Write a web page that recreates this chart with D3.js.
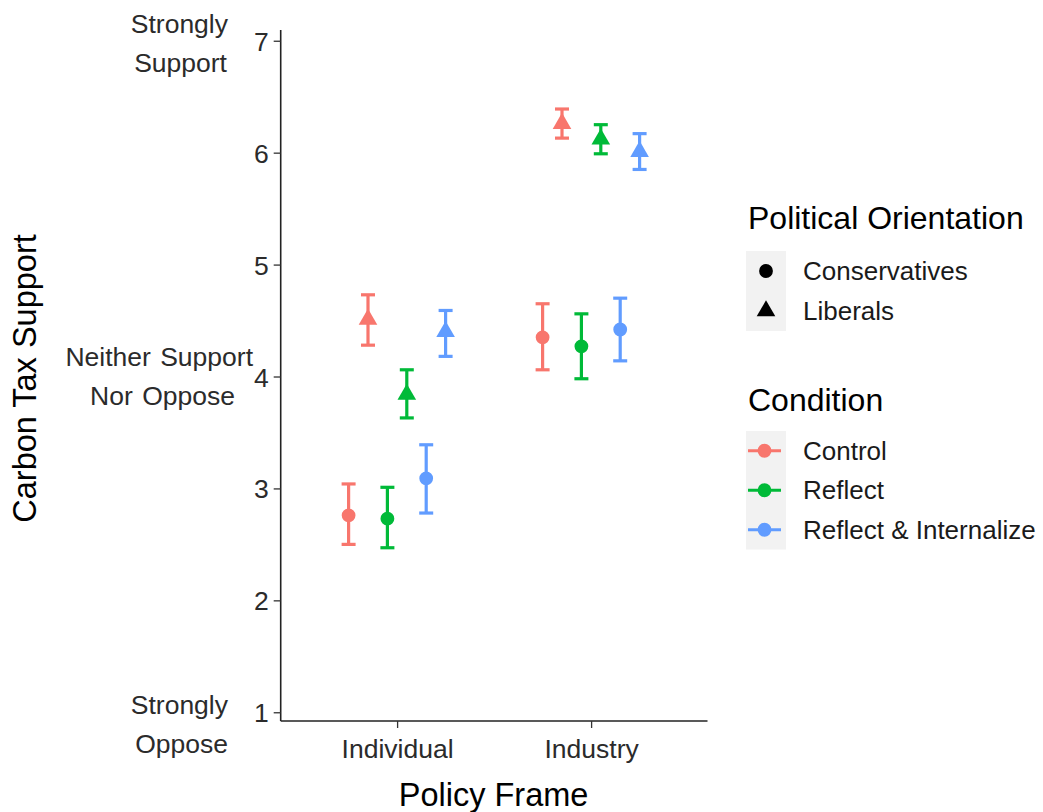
<!DOCTYPE html>
<html>
<head>
<meta charset="utf-8">
<script src="https://cdn.jsdelivr.net/npm/d3@7"></script>
<style>
  html, body { margin: 0; padding: 0; background: #fff; }
  svg { display: block; font-family: "Liberation Sans", Arial, sans-serif; }
</style>
</head>
<body>
<svg id="chart" width="1043" height="812"></svg>
<script>
// ---------------- data ----------------
const frames = ["Individual", "Industry"];
const conditions = ["Control", "Reflect", "Reflect & Internalize"];
const orientations = ["Conservatives", "Liberals"];

// means and 95% CI bounds, per frame (rows) and condition (columns)
const conservativesMean = [[2.76, 2.73, 3.09], [4.35, 4.27, 4.42]];
const conservativesLow  = [[2.50, 2.47, 2.78], [4.06, 3.98, 4.14]];
const conservativesHigh = [[3.04, 3.01, 3.39], [4.65, 4.56, 4.70]];
const liberalsMean = [[4.51, 3.84, 4.40], [6.26, 6.12, 6.01]];
const liberalsLow  = [[4.28, 3.63, 4.18], [6.13, 5.99, 5.85]];
const liberalsHigh = [[4.73, 4.06, 4.59], [6.39, 6.25, 6.17]];

const yTicks = [1, 2, 3, 4, 5, 6, 7];
const anchorValues = [7, 4, 1];
const anchorLabels = [["Strongly", "Support"], ["Neither Support", "Nor Oppose"], ["Strongly", "Oppose"]];

const xTitle = "Policy Frame";
const yTitle = "Carbon Tax Support";
const shapeTitle = "Political Orientation";
const colorTitle = "Condition";

// ---------------- styles ----------------
const colors = ["#F8766D", "#00BA38", "#619CFF"];
const svg = d3.select("#chart");

const x = d3.scaleLinear().domain([0.4, 2.6]).range([280.7, 707.5]);
const y = d3.scaleLinear().domain([0.922, 7.096]).range([721, 30]);
const color = d3.scaleOrdinal().domain(conditions).range(colors);
const shape = d3.scaleOrdinal().domain(orientations).range([d3.symbolCircle, d3.symbolTriangle]);
const symbolSize = 150;

// build rows
const rows = [];
const seriesMean = [conservativesMean, liberalsMean];
const seriesLow = [conservativesLow, liberalsLow];
const seriesHigh = [conservativesHigh, liberalsHigh];
frames.forEach((f, fi) => {
  conditions.forEach((c, ci) => {
    orientations.forEach((o, oi) => {
      rows.push({
        frame: f, fi, condition: c, ci, orientation: o, oi,
        mean: seriesMean[oi][fi][ci],
        low: seriesLow[oi][fi][ci],
        high: seriesHigh[oi][fi][ci]
      });
    });
  });
});

// dodge: 6 groups over width 0.6
const dodgeWidth = 0.6, nGroups = conditions.length * orientations.length;
function xPos(d) {
  const g = d.ci * orientations.length + d.oi;
  return x(d.fi + 1 - dodgeWidth / 2 + dodgeWidth / nGroups * (g + 0.5));
}

// ---------------- axes ----------------
const yAxis = d3.axisLeft(y).tickValues(yTicks).tickSize(7).tickPadding(5).tickFormat(d3.format("d"));
const gy = svg.append("g").attr("transform", `translate(${x.range()[0]},0)`).call(yAxis);
const xAxis = d3.axisBottom(x).tickValues([1, 2]).tickSize(7).tickPadding(6).tickFormat(d => frames[d - 1]);
const gx = svg.append("g").attr("transform", `translate(0,${y.range()[0]})`).call(xAxis);

[gx, gy].forEach(g => {
  g.select(".domain").attr("stroke", "#222").attr("stroke-width", 1.6);
  g.selectAll(".tick line").attr("stroke", "#333").attr("stroke-width", 1.3);
  g.selectAll(".tick text").attr("fill", "#2b2b2b").style("font-size", "26.5px");
});
gy.select(".domain").attr("d", `M0,${y.range()[0]}V${y.range()[1]}`);
gx.select(".domain").attr("d", `M${x.range()[0]},0H${x.range()[1]}`);
gx.selectAll(".tick text").attr("dy", "0.9em");
gy.selectAll(".tick text").attr("dy", "0.36em");

// anchor labels
const anchorX = [[228, 227], [253, 235], [228, 228]];
const anchorShift = [3, 0, 12];
const lineGap = 39;
anchorValues.forEach((v, i) => {
  const lines = anchorLabels[i];
  lines.forEach((t, j) => {
    svg.append("text")
      .attr("x", anchorX[i][j])
      .attr("y", y(v) + anchorShift[i] + (j - (lines.length - 1) / 2) * lineGap)
      .attr("text-anchor", "end")
      .attr("dominant-baseline", "central")
      .attr("fill", "#2b2b2b")
      .style("font-size", "26.5px")
      .style("word-spacing", "2px")
      .text(t);
  });
});

// axis titles
svg.append("text")
  .attr("x", (x.range()[0] + x.range()[1]) / 2 - 0.5).attr("y", 806)
  .attr("text-anchor", "middle").attr("fill", "#000")
  .style("font-size", "32.5px").text(xTitle);
svg.append("text")
  .attr("transform", `translate(36,${y(4) + 2}) rotate(-90)`)
  .attr("text-anchor", "middle").attr("fill", "#000")
  .style("font-size", "32.5px").text(yTitle);

// ---------------- marks ----------------
const capHalf = 7;
const marks = svg.append("g");
const g = marks.selectAll("g.pt").data(rows).join("g").attr("class", "pt");
g.append("line")
  .attr("x1", xPos).attr("x2", xPos)
  .attr("y1", d => y(d.low)).attr("y2", d => y(d.high))
  .attr("stroke", d => color(d.condition)).attr("stroke-width", 3.2);
g.append("line")
  .attr("x1", d => xPos(d) - capHalf).attr("x2", d => xPos(d) + capHalf)
  .attr("y1", d => y(d.low)).attr("y2", d => y(d.low))
  .attr("stroke", d => color(d.condition)).attr("stroke-width", 3.2);
g.append("line")
  .attr("x1", d => xPos(d) - capHalf).attr("x2", d => xPos(d) + capHalf)
  .attr("y1", d => y(d.high)).attr("y2", d => y(d.high))
  .attr("stroke", d => color(d.condition)).attr("stroke-width", 3.2);
g.append("path")
  .attr("transform", d => `translate(${xPos(d)},${y(d.mean)})`)
  .attr("d", d => d3.symbol().type(shape(d.orientation)).size(symbolSize)())
  .attr("fill", d => color(d.condition));

// ---------------- legends ----------------
const legX = 746, keyW = 40, keyH = 40, labX = 803;
// shape legend
svg.append("text").attr("x", 748).attr("y", 218).attr("dominant-baseline", "central")
  .attr("fill", "#000").style("font-size", "32px").text(shapeTitle);
const shapeTop = 251;
svg.append("rect").attr("x", legX).attr("y", shapeTop).attr("width", keyW).attr("height", keyH * orientations.length)
  .attr("fill", "#F2F2F2");
orientations.forEach((o, i) => {
  const cy = shapeTop + keyH * (i + 0.5);
  svg.append("path").attr("transform", `translate(${legX + keyW / 2},${cy})`)
    .attr("d", d3.symbol().type(shape(o)).size(symbolSize)()).attr("fill", "#000");
  svg.append("text").attr("x", labX).attr("y", cy).attr("dominant-baseline", "central")
    .attr("fill", "#1a1a1a").style("font-size", "26px").text(o);
});
// colour legend
svg.append("text").attr("x", 748).attr("y", 400).attr("dominant-baseline", "central")
  .attr("fill", "#000").style("font-size", "32px").text(colorTitle);
const colTop = 431;
const keyH2 = 39.5;
svg.append("rect").attr("x", legX).attr("y", colTop).attr("width", keyW).attr("height", keyH2 * conditions.length)
  .attr("fill", "#F2F2F2");
conditions.forEach((c, i) => {
  const cy = colTop + keyH2 * (i + 0.5);
  svg.append("line").attr("x1", legX + 2).attr("x2", legX + keyW - 5).attr("y1", cy).attr("y2", cy)
    .attr("stroke", color(c)).attr("stroke-width", 3.2);
  svg.append("path").attr("transform", `translate(${legX + keyW / 2 - 1.5},${cy})`)
    .attr("d", d3.symbol().type(d3.symbolCircle).size(symbolSize)()).attr("fill", color(c));
  svg.append("text").attr("x", labX).attr("y", cy).attr("dominant-baseline", "central")
    .attr("fill", "#1a1a1a").style("font-size", "26px").text(c);
});
</script>
</body>
</html>
